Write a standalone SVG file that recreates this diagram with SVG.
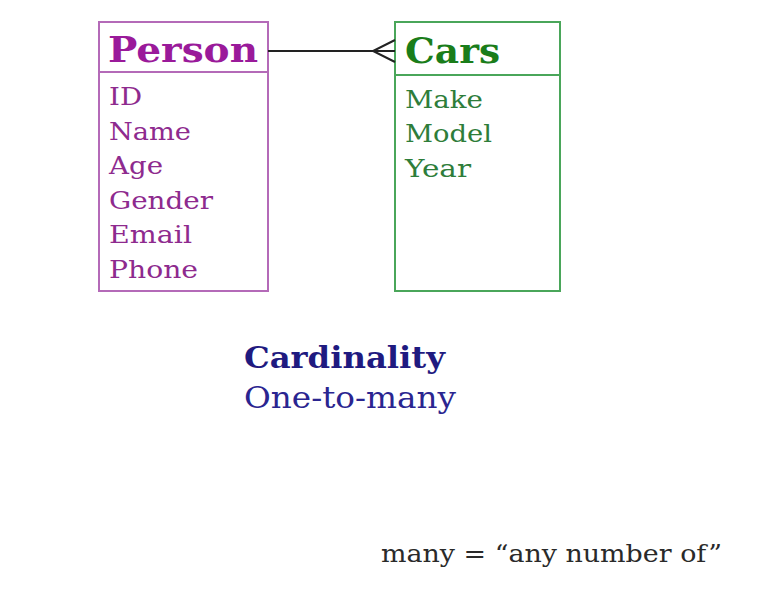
<svg xmlns="http://www.w3.org/2000/svg" width="760" height="604" viewBox="0 0 760 604">
<style>
text{font-family:"DejaVu Serif","Liberation Serif",serif}
.box{fill:#fff;stroke-width:2}
.p{stroke:#b46ab8}
.c{stroke:#4aa65a}
.ph{fill:#9a1a9a;font-weight:bold;font-size:36px}
.pa{fill:#8e2a8e;font-size:24px}
.ch{fill:#1a7d1a;font-weight:bold;font-size:36px}
.ca{fill:#2e7d3a;font-size:24px}
.conn{stroke:#222;stroke-width:2;fill:none}
</style>
<rect width="760" height="604" fill="#fff"/>
<g id="person">
<rect class="box p" x="99" y="22" width="169" height="269"/>
<line class="p" x1="99" y1="72" x2="268" y2="72" stroke-width="2"/>
<text class="ph" x="108" y="62" textLength="150" lengthAdjust="spacingAndGlyphs">Person</text>
<text class="pa" x="109" y="105" textLength="33" lengthAdjust="spacingAndGlyphs">ID</text>
<text class="pa" x="109" y="140" textLength="82" lengthAdjust="spacingAndGlyphs">Name</text>
<text class="pa" x="109" y="174" textLength="54" lengthAdjust="spacingAndGlyphs">Age</text>
<text class="pa" x="109" y="209" textLength="104" lengthAdjust="spacingAndGlyphs">Gender</text>
<text class="pa" x="109" y="243" textLength="83" lengthAdjust="spacingAndGlyphs">Email</text>
<text class="pa" x="109" y="278" textLength="89" lengthAdjust="spacingAndGlyphs">Phone</text>
</g>
<g id="cars">
<rect class="box c" x="395" y="22" width="165" height="269"/>
<line class="c" x1="395" y1="75" x2="560" y2="75" stroke-width="2"/>
<text class="ch" x="405" y="63" textLength="95" lengthAdjust="spacingAndGlyphs">Cars</text>
<text class="ca" x="405" y="108" textLength="78" lengthAdjust="spacingAndGlyphs">Make</text>
<text class="ca" x="405" y="142" textLength="87" lengthAdjust="spacingAndGlyphs">Model</text>
<text class="ca" x="405" y="177" textLength="66" lengthAdjust="spacingAndGlyphs">Year</text>
</g>
<g id="connectors">
<line class="conn" x1="268" y1="51" x2="395" y2="51"/>
<polyline class="conn" points="395,40 373,51 395,62"/>
</g>
<g id="cardinality">
<text x="244" y="368" fill="#1f1a80" font-weight="bold" font-size="30" textLength="201" lengthAdjust="spacingAndGlyphs">Cardinality</text>
<text x="244" y="408" fill="#2a2590" font-size="30" textLength="212" lengthAdjust="spacingAndGlyphs">One-to-many</text>
</g>
<g id="note">
<text x="381" y="562" fill="#2a2a2a" font-size="24" textLength="341" lengthAdjust="spacingAndGlyphs">many = “any number of”</text>
</g>
</svg>
